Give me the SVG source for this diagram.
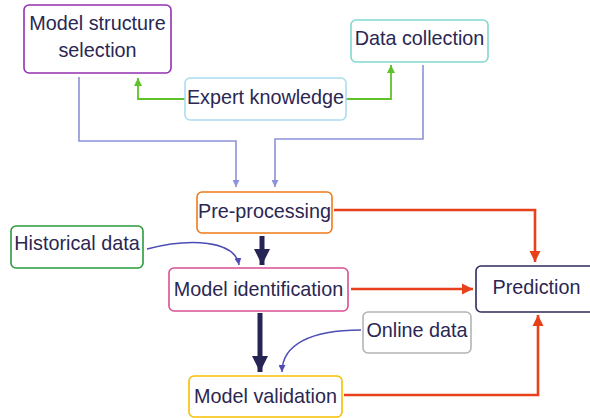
<svg xmlns="http://www.w3.org/2000/svg" width="590" height="418" viewBox="0 0 590 418">
<defs>
<style>
.box{fill:#fff;stroke-width:1.6}
.t{font-family:"Liberation Sans",Arial,sans-serif;font-size:19.8px;fill:#2a2752;text-anchor:middle}
.lav{fill:none;stroke:#8e92d8;stroke-width:1.6}
.grn{fill:none;stroke:#5fc22a;stroke-width:1.8}
.red{fill:none;stroke:#e8401a;stroke-width:2.6}
.blu{fill:none;stroke:#4d4db3;stroke-width:1.5}
.nav{fill:none;stroke:#262355;stroke-width:5}
</style>
<marker id="mLav" viewBox="0 0 10 10" refX="10" refY="5" markerWidth="7" markerHeight="7" markerUnits="userSpaceOnUse" orient="auto"><path d="M0,0 L10,5 L0,10 z" fill="#8e92d8"/></marker>
<marker id="mGrn" viewBox="0 0 10 10" refX="10" refY="5" markerWidth="8" markerHeight="8" markerUnits="userSpaceOnUse" orient="auto"><path d="M0,0 L10,5 L0,10 z" fill="#5fc22a"/></marker>
<marker id="mRed" viewBox="0 0 10 10" refX="10" refY="5" markerWidth="11" markerHeight="12" markerUnits="userSpaceOnUse" orient="auto"><path d="M0,0 L10,5 L0,10 z" fill="#e8401a"/></marker>
<marker id="mBlu" viewBox="0 0 10 10" refX="10" refY="5" markerWidth="7" markerHeight="7" markerUnits="userSpaceOnUse" orient="auto"><path d="M0,0 L10,5 L0,10 z" fill="#4d4db3"/></marker>
<marker id="mNav" viewBox="0 0 10 10" refX="10" refY="5" markerWidth="16" markerHeight="19" markerUnits="userSpaceOnUse" orient="auto"><path d="M0,0 L10,5 L0,10 z" fill="#262355"/></marker>
</defs>
<g id="connectors">
<path class="lav" d="M79,77 V141 H236 V187" marker-end="url(#mLav)"/>
<path class="lav" d="M423,65 V139 H275 V187" marker-end="url(#mLav)"/>
<path class="grn" d="M185,99 H138 V78" marker-end="url(#mGrn)"/>
<path class="grn" d="M346,99 H391 V65" marker-end="url(#mGrn)"/>
<path class="red" d="M334,210 H535 V262" marker-end="url(#mRed)"/>
<path class="red" d="M351,289 H473" marker-end="url(#mRed)"/>
<path class="red" d="M344,395 H538 V315" marker-end="url(#mRed)"/>
<path class="nav" d="M262,236 V265" marker-end="url(#mNav)"/>
<path class="nav" d="M260,313 V372" marker-end="url(#mNav)"/>
<path class="blu" d="M147,249 C190,238 235,240 239,265" marker-end="url(#mBlu)"/>
<path class="blu" d="M361,330 C310,330 282,345 282,372" marker-end="url(#mBlu)"/>
</g>
<g id="model-structure-selection">
<rect class="box" x="24" y="5" width="147" height="68" rx="5" stroke="#9430b0"/>
<text class="t" x="97.5" y="30">Model structure</text>
<text class="t" x="97.5" y="57">selection</text>
</g>
<g id="data-collection">
<rect class="box" x="351" y="20" width="137" height="42" rx="5" stroke="#80d8d0"/>
<text class="t" x="419.5" y="45">Data collection</text>
</g>
<g id="expert-knowledge">
<rect class="box" x="185" y="78" width="161" height="42" rx="5" stroke="#aadcf0"/>
<text class="t" x="265.5" y="104">Expert knowledge</text>
</g>
<g id="pre-processing">
<rect class="box" x="197" y="192" width="135" height="41" rx="5" stroke="#f07a1a"/>
<text class="t" x="264.5" y="218">Pre-processing</text>
</g>
<g id="historical-data">
<rect class="box" x="11" y="226" width="132" height="42" rx="5" stroke="#2a9a3c"/>
<text class="t" x="77" y="250">Historical data</text>
</g>
<g id="model-identification">
<rect class="box" x="169" y="268" width="179" height="43" rx="5" stroke="#d94f94"/>
<text class="t" x="258.5" y="296">Model identification</text>
</g>
<g id="prediction">
<rect class="box" x="476" y="266" width="124" height="46" rx="5" stroke="#2e2a5e"/>
<text class="t" x="536.5" y="294">Prediction</text>
</g>
<g id="online-data">
<rect class="box" x="363" y="312" width="108" height="41" rx="5" stroke="#b4b4b4"/>
<text class="t" x="417" y="337">Online data</text>
</g>
<g id="model-validation">
<rect class="box" x="189" y="376" width="153" height="41" rx="5" stroke="#f5c000"/>
<text class="t" x="265.5" y="403">Model validation</text>
</g>
</svg>
